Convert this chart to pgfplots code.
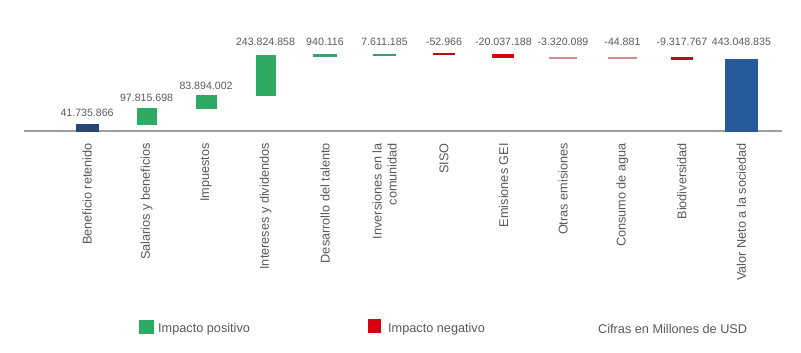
\documentclass[border=0pt]{standalone}
\usepackage{pgfplots}
\pgfplotsset{compat=1.18}
\usepackage{fontspec}
\setmainfont{Liberation Sans}
\definecolor{posgreen}{RGB}{46,170,100}
\definecolor{lgreen}{RGB}{55,160,105}
\definecolor{navy}{RGB}{40,70,110}
\definecolor{negred}{RGB}{214,0,14}
\definecolor{dred}{RGB}{185,15,25}
\definecolor{pinkred}{RGB}{212,140,145}
\definecolor{netblue}{RGB}{38,90,155}
\definecolor{axgray}{RGB}{160,160,160}
\definecolor{txtgray}{RGB}{89,89,89}
\begin{document}
\begin{tikzpicture}
\useasboundingbox (-24pt,-222pt) rectangle (777pt,131pt);
\begin{axis}[
  at={(0pt,0pt)}, anchor=south west,
  scale only axis, width=757.7pt, height=110pt,
  xmin=-1.06, xmax=11.677, ymin=0, ymax=682000,
  axis x line=bottom, axis y line=none,
  x axis line style={-, draw=axgray, line width=1.8pt},
  xtick={0,...,11},
  xticklabels={Beneficio retenido, Salarios y beneficios, Impuestos, Intereses y dividendos, Desarrollo del talento, {Inversiones en la\\comunidad}, SISO, Emisiones GEI, Otras emisiones, Consumo de agua, Biodiversidad, Valor Neto a la sociedad},
  major tick length=0pt,
  xticklabel style={rotate=90, anchor=east, inner sep=0pt, align=right, font=\fontsize{12.7}{15}\selectfont, text=txtgray},
  xticklabel shift=12pt,
  clip=false,
]
% Beneficio retenido: 0 -> 41735.866
\addplot[fill=navy, draw=navy, line width=0.4pt] coordinates {(-0.187,0) (0.187,0) (0.187,41735.866) (-0.187,41735.866)} -- cycle;
% Salarios y beneficios: +97815.698
\addplot[fill=posgreen, draw=posgreen, line width=0.4pt] coordinates {(0.835,41735.866) (1.165,41735.866) (1.165,139551.564) (0.835,139551.564)} -- cycle;
% Impuestos: +83894.002
\addplot[fill=posgreen, draw=posgreen, line width=0.4pt] coordinates {(1.835,139551.564) (2.165,139551.564) (2.165,223445.566) (1.835,223445.566)} -- cycle;
% Intereses y dividendos: +243824.858
\addplot[fill=posgreen, draw=posgreen, line width=0.4pt] coordinates {(2.835,223445.566) (3.165,223445.566) (3.165,467270.424) (2.835,467270.424)} -- cycle;
% Desarrollo del talento: +940.116
\addplot[fill=lgreen, draw=lgreen, line width=2pt] coordinates {(3.823,467270.424) (4.177,467270.424) (4.177,468210.540) (3.823,468210.540)} -- cycle;
% Inversiones en la comunidad: +7611.185
\addplot[fill=lgreen, draw=lgreen, line width=1.4pt] coordinates {(4.823,468210.540) (5.177,468210.540) (5.177,475821.725) (4.823,475821.725)} -- cycle;
% SISO: -52.966
\addplot[fill=dred, draw=dred, line width=2pt] coordinates {(5.828,475768.759) (6.172,475768.759) (6.172,475821.725) (5.828,475821.725)} -- cycle;
% Emisiones GEI: -20037.188
\addplot[fill=negred, draw=negred, line width=1.2pt] coordinates {(6.825,455731.571) (7.175,455731.571) (7.175,475768.759) (6.825,475768.759)} -- cycle;
% Otras emisiones: -3320.089
\addplot[fill=pinkred, draw=pinkred, line width=1.6pt] coordinates {(7.772,452411.482) (8.228,452411.482) (8.228,455731.571) (7.772,455731.571)} -- cycle;
% Consumo de agua: -44.881
\addplot[fill=pinkred, draw=pinkred, line width=2pt] coordinates {(8.772,452366.601) (9.228,452366.601) (9.228,452411.482) (8.772,452411.482)} -- cycle;
% Biodiversidad: -9317.767
\addplot[fill=dred, draw=dred, line width=1.4pt] coordinates {(9.832,443048.834) (10.168,443048.834) (10.168,452366.601) (9.832,452366.601)} -- cycle;
% Valor Neto a la sociedad: 443048.835
\addplot[fill=netblue, draw=netblue, line width=0.4pt] coordinates {(10.731,0) (11.269,0) (11.269,443048.835) (10.731,443048.835)} -- cycle;

\begin{scope}[every node/.style={font=\fontsize{10.6}{12}\selectfont, text=txtgray}]
\node at (axis cs:0,113460) {41.735.866};
\node at (axis cs:1,202740) {97.815.698};
\node at (axis cs:2,279000) {83.894.002};
\node at (axis cs:3,554900) {243.824.858};
\node at (axis cs:4,554900) {940.116};
\node at (axis cs:5,554900) {7.611.185};
\node at (axis cs:6,554900) {-52.966};
\node at (axis cs:7,554900) {-20.037.188};
\node at (axis cs:8,554900) {-3.320.089};
\node at (axis cs:9,554900) {-44.881};
\node at (axis cs:10,554900) {-9.317.767};
\node at (axis cs:11,554900) {443.048.835};
\end{scope}
\end{axis}
% legend
\fill[posgreen] (115pt,-188.5pt) rectangle (130pt,-202.5pt);
\node[anchor=west, inner sep=0pt, font=\fontsize{12.7}{15}\selectfont, text=txtgray] at (134pt,-198pt) {Impacto positivo};
\fill[negred] (343.5pt,-187.5pt) rectangle (357pt,-201.5pt);
\node[anchor=west, inner sep=0pt, font=\fontsize{12.7}{15}\selectfont, text=txtgray] at (364pt,-198pt) {Impacto negativo};
\node[anchor=west, inner sep=0pt, font=\fontsize{12.7}{15}\selectfont, text=txtgray] at (574pt,-197.5pt) {Cifras en Millones de USD};
\end{tikzpicture}
\end{document}
